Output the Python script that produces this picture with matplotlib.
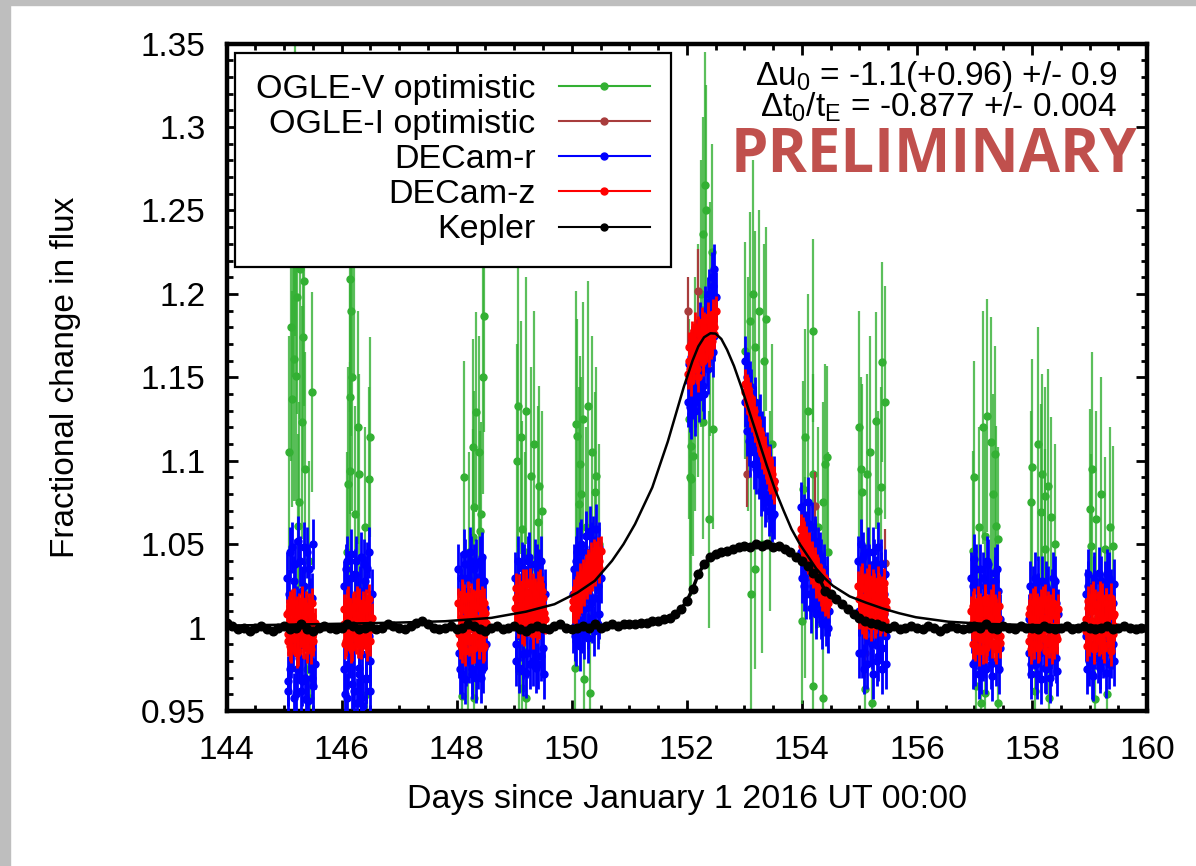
import numpy as np
import matplotlib.pyplot as plt
from matplotlib.lines import Line2D
from matplotlib.patches import Rectangle
from matplotlib.ticker import MultipleLocator, FuncFormatter

plt.rcParams['font.family'] = ['Liberation Sans', 'DejaVu Sans']
plt.rcParams['mathtext.default'] = 'regular'

# ---- DECam r / z photometry, one line per night (two exposure sequences) ----
decam_t = [
    145.05, 145.07, 145.10, 145.12, 145.15, 145.17, 145.19, 145.22, 145.24, 145.27, 145.29, 145.32, 145.34, 145.36, 145.39, 145.41, 145.44, 145.46, 145.49, 145.51,
    146.04, 146.06, 146.09, 146.11, 146.14, 146.16, 146.18, 146.21, 146.23, 146.26, 146.28, 146.31, 146.33, 146.35, 146.38, 146.40, 146.43, 146.45, 146.48, 146.50,
    148.03, 148.05, 148.08, 148.10, 148.13, 148.15, 148.17, 148.20, 148.22, 148.25, 148.27, 148.30, 148.32, 148.34, 148.37, 148.39, 148.42, 148.44, 148.47, 148.49,
    149.02, 149.04, 149.07, 149.10, 149.12, 149.15, 149.17, 149.20, 149.23, 149.25, 149.28, 149.30, 149.33, 149.36, 149.38, 149.41, 149.43, 149.46, 149.49, 149.52,
    150.02, 150.04, 150.07, 150.09, 150.12, 150.14, 150.16, 150.19, 150.21, 150.24, 150.26, 150.29, 150.31, 150.33, 150.36, 150.38, 150.41, 150.43, 150.46, 150.48,
    152.02, 152.04, 152.07, 152.09, 152.12, 152.14, 152.16, 152.19, 152.21, 152.24, 152.26, 152.29, 152.31, 152.33, 152.36, 152.38, 152.41, 152.43, 152.46, 152.48,
    153.01, 153.04, 153.06, 153.09, 153.12, 153.14, 153.17, 153.19, 153.22, 153.25, 153.27, 153.30, 153.32, 153.35, 153.38, 153.40, 153.43, 153.45, 153.48, 153.51,
    153.98, 154.00, 154.03, 154.05, 154.08, 154.10, 154.13, 154.15, 154.18, 154.20, 154.23, 154.25, 154.28, 154.30, 154.33, 154.35, 154.38, 154.40, 154.43, 154.46,
    154.98, 155.00, 155.03, 155.05, 155.08, 155.10, 155.13, 155.15, 155.18, 155.20, 155.23, 155.25, 155.28, 155.30, 155.33, 155.35, 155.38, 155.40, 155.43, 155.46,
    156.94, 156.97, 156.99, 157.02, 157.05, 157.07, 157.10, 157.12, 157.15, 157.18, 157.20, 157.23, 157.25, 157.28, 157.31, 157.33, 157.36, 157.38, 157.41, 157.44,
    157.94, 157.97, 157.99, 158.02, 158.05, 158.07, 158.10, 158.12, 158.15, 158.18, 158.20, 158.23, 158.25, 158.28, 158.31, 158.33, 158.36, 158.38, 158.41, 158.44,
    158.93, 158.95, 158.98, 159.01, 159.03, 159.06, 159.08, 159.11, 159.14, 159.16, 159.19, 159.21, 159.24, 159.27, 159.29, 159.32, 159.34, 159.37, 159.40, 159.42,
    145.06, 145.09, 145.11, 145.14, 145.16, 145.18, 145.21, 145.23, 145.26, 145.28, 145.31, 145.33, 145.35, 145.38, 145.40, 145.43, 145.45, 145.48, 145.50, 145.53,
    146.05, 146.08, 146.10, 146.13, 146.15, 146.17, 146.20, 146.22, 146.25, 146.27, 146.30, 146.32, 146.34, 146.37, 146.39, 146.42, 146.44, 146.47, 146.49, 146.52,
    148.04, 148.07, 148.09, 148.12, 148.14, 148.16, 148.19, 148.21, 148.24, 148.26, 148.29, 148.31, 148.33, 148.36, 148.38, 148.41, 148.43, 148.46, 148.48, 148.51,
    149.03, 149.06, 149.08, 149.11, 149.14, 149.16, 149.19, 149.21, 149.24, 149.27, 149.29, 149.32, 149.34, 149.37, 149.40, 149.42, 149.45, 149.47, 149.50, 149.53,
    150.03, 150.06, 150.08, 150.11, 150.13, 150.15, 150.18, 150.20, 150.23, 150.25, 150.28, 150.30, 150.32, 150.35, 150.37, 150.40, 150.42, 150.45, 150.47, 150.50,
    152.03, 152.06, 152.08, 152.11, 152.13, 152.15, 152.18, 152.20, 152.23, 152.25, 152.28, 152.30, 152.32, 152.35, 152.37, 152.40, 152.42, 152.45, 152.47, 152.50,
    153.02, 153.05, 153.08, 153.10, 153.13, 153.16, 153.18, 153.21, 153.23, 153.26, 153.29, 153.31, 153.34, 153.36, 153.39, 153.42, 153.44, 153.47, 153.49, 153.52,
    153.99, 154.02, 154.04, 154.07, 154.09, 154.12, 154.14, 154.17, 154.19, 154.22, 154.24, 154.27, 154.29, 154.32, 154.34, 154.37, 154.39, 154.42, 154.44, 154.47,
    154.99, 155.02, 155.04, 155.07, 155.09, 155.12, 155.14, 155.17, 155.19, 155.22, 155.24, 155.27, 155.29, 155.32, 155.34, 155.37, 155.39, 155.42, 155.44, 155.47,
    156.95, 156.98, 157.01, 157.03, 157.06, 157.09, 157.11, 157.14, 157.16, 157.19, 157.22, 157.24, 157.27, 157.29, 157.32, 157.35, 157.37, 157.40, 157.42, 157.45,
    157.95, 157.98, 158.01, 158.03, 158.06, 158.09, 158.11, 158.14, 158.16, 158.19, 158.22, 158.24, 158.27, 158.29, 158.32, 158.35, 158.37, 158.40, 158.42, 158.45,
    158.94, 158.97, 158.99, 159.02, 159.05, 159.07, 159.10, 159.12, 159.15, 159.18, 159.20, 159.23, 159.25, 159.28, 159.31, 159.33, 159.36, 159.38, 159.41, 159.43,
]
decam_r = [
    1.030, 0.968, 1.045, 0.985, 1.012, 0.958, 1.038, 0.975, 1.052, 0.992, 0.962, 1.022, 1.048, 0.970, 1.005, 0.956, 1.035, 0.980, 1.018, 0.965,
    1.025, 0.960, 1.040, 0.978, 1.010, 1.044, 0.966, 0.990, 1.032, 0.955, 1.018, 0.972, 1.042, 0.984, 0.953, 1.028, 0.969, 1.036, 0.995, 0.962,
    1.035, 0.975, 1.020, 0.990, 1.044, 0.969, 1.008, 1.030, 0.982, 1.040, 0.972, 1.015, 0.995, 1.038, 0.978, 1.025, 0.970, 1.042, 0.988, 1.012,
    1.030, 0.980, 1.040, 0.995, 1.018, 0.974, 1.035, 1.005, 0.985, 1.042, 0.978, 1.022, 0.990, 1.038, 0.976, 1.012, 1.032, 0.983, 1.026, 0.972,
    1.000, 1.035, 0.992, 1.045, 1.010, 0.989, 1.050, 1.020, 0.996, 1.055, 1.030, 1.002, 1.058, 1.015, 1.048, 0.998, 1.040, 1.059, 1.025, 1.008,
    1.135, 1.158, 1.128, 1.166, 1.142, 1.130, 1.170, 1.150, 1.138, 1.176, 1.160, 1.145, 1.190, 1.168, 1.155, 1.200, 1.178, 1.210, 1.165, 1.215,
    1.160, 1.118, 1.150, 1.105, 1.140, 1.128, 1.098, 1.135, 1.110, 1.092, 1.125, 1.100, 1.085, 1.112, 1.078, 1.102, 1.070, 1.095, 1.066, 1.088,
    1.072, 1.030, 1.065, 1.040, 1.020, 1.075, 1.048, 1.012, 1.060, 1.025, 1.052, 1.008, 1.045, 1.018, 1.038, 1.002, 1.030, 1.010, 1.028, 1.000,
    1.040, 0.985, 1.050, 1.015, 0.975, 1.035, 1.005, 1.045, 0.992, 1.025, 0.972, 1.038, 1.010, 0.980, 1.048, 1.000, 1.030, 0.988, 1.020, 0.978,
    1.030, 0.978, 1.041, 0.990, 1.015, 0.972, 1.035, 1.002, 0.983, 1.025, 0.975, 1.038, 0.995, 1.020, 0.971, 1.010, 1.033, 0.980, 1.022, 0.988,
    0.985, 1.025, 0.972, 1.010, 1.030, 0.978, 1.018, 0.995, 0.969, 1.028, 0.990, 1.012, 0.975, 1.022, 1.002, 0.980, 1.030, 0.986, 1.015, 0.974,
    1.020, 0.975, 1.032, 0.990, 1.012, 0.971, 1.028, 1.000, 0.982, 1.033, 0.978, 1.018, 0.993, 1.025, 0.973, 1.008, 1.030, 0.985, 1.015, 0.980,
    0.962, 1.020, 0.975, 1.048, 0.990, 1.028, 0.960, 1.010, 0.982, 1.040, 0.968, 1.002, 1.025, 0.957, 1.045, 0.988, 1.015, 0.970, 1.050, 0.978,
    0.975, 1.035, 0.958, 1.015, 0.985, 1.030, 0.994, 0.962, 1.040, 1.005, 0.976, 1.022, 0.958, 1.012, 1.038, 0.970, 1.000, 1.045, 0.980, 1.020,
    0.985, 1.030, 0.972, 1.010, 1.038, 0.980, 1.022, 0.992, 1.045, 0.975, 1.005, 1.035, 0.970, 1.018, 0.985, 1.040, 0.998, 0.976, 1.028, 0.990,
    0.990, 1.025, 0.976, 1.012, 1.036, 0.984, 1.020, 0.973, 1.040, 1.000, 1.028, 0.980, 1.015, 0.995, 1.035, 0.978, 1.008, 1.040, 0.988, 1.020,
    1.020, 0.995, 1.040, 1.005, 1.028, 1.048, 1.000, 1.035, 1.012, 1.045, 0.994, 1.025, 1.040, 1.006, 1.052, 1.018, 1.035, 1.002, 1.048, 1.030,
    1.148, 1.132, 1.162, 1.140, 1.155, 1.135, 1.165, 1.145, 1.180, 1.152, 1.170, 1.140, 1.185, 1.160, 1.195, 1.172, 1.188, 1.205, 1.175, 1.198,
    1.135, 1.150, 1.112, 1.145, 1.120, 1.108, 1.130, 1.095, 1.122, 1.105, 1.082, 1.115, 1.090, 1.075, 1.098, 1.080, 1.090, 1.072, 1.082, 1.068,
    1.045, 1.060, 1.025, 1.055, 1.035, 1.062, 1.020, 1.042, 1.030, 1.050, 1.015, 1.035, 1.025, 1.042, 1.008, 1.022, 1.035, 1.004, 1.018, 1.010,
    1.010, 1.030, 0.985, 1.042, 1.000, 1.020, 0.978, 1.035, 1.012, 0.990, 1.045, 1.002, 1.028, 0.983, 1.015, 1.038, 0.975, 1.008, 1.032, 0.995,
    1.000, 1.025, 0.980, 1.035, 0.992, 1.018, 0.975, 1.030, 1.008, 0.985, 1.040, 0.998, 1.022, 0.978, 1.012, 1.028, 0.990, 1.035, 0.975, 1.005,
    1.005, 0.978, 1.022, 0.990, 1.012, 0.972, 1.028, 0.985, 1.015, 1.000, 0.976, 1.025, 0.992, 1.010, 0.970, 1.020, 0.995, 1.028, 0.982, 1.008,
    0.995, 1.025, 0.980, 1.010, 0.972, 1.030, 0.990, 1.015, 1.000, 0.976, 1.028, 0.985, 1.012, 0.995, 1.032, 0.978, 1.005, 1.020, 0.990, 1.026,
]
decam_z = [
    1.008, 0.992, 1.013, 0.988, 1.004, 1.015, 0.995, 1.010, 0.986, 1.006, 0.998, 1.014, 0.990, 1.009, 1.002, 0.993, 1.012, 0.987, 1.007, 0.997,
    1.011, 0.990, 1.006, 1.016, 0.994, 1.003, 0.989, 1.013, 0.998, 1.008, 0.991, 1.015, 1.001, 0.993, 1.010, 0.996, 1.014, 0.989, 1.005, 0.999,
    1.015, 0.990, 1.006, 1.020, 0.994, 0.986, 1.011, 1.002, 0.992, 1.018, 1.008, 0.988, 1.013, 0.997, 1.021, 0.991, 1.004, 1.016, 0.989, 1.009,
    1.012, 1.024, 1.003, 1.018, 1.008, 1.026, 0.998, 1.015, 1.021, 1.005, 1.027, 1.010, 0.996, 1.019, 1.013, 1.025, 1.002, 1.016, 1.022, 1.009,
    1.012, 1.020, 1.010, 1.025, 1.016, 1.028, 1.018, 1.032, 1.022, 1.035, 1.026, 1.038, 1.029, 1.042, 1.031, 1.044, 1.034, 1.040, 1.045, 1.036,
    1.152, 1.168, 1.148, 1.175, 1.158, 1.180, 1.162, 1.150, 1.176, 1.166, 1.183, 1.160, 1.178, 1.170, 1.186, 1.165, 1.181, 1.172, 1.188, 1.176,
    1.146, 1.137, 1.141, 1.129, 1.135, 1.126, 1.124, 1.120, 1.118, 1.113, 1.116, 1.104, 1.109, 1.101, 1.098, 1.095, 1.091, 1.089, 1.092, 1.083,
    1.059, 1.049, 1.055, 1.044, 1.050, 1.041, 1.046, 1.035, 1.042, 1.033, 1.037, 1.027, 1.033, 1.025, 1.029, 1.019, 1.026, 1.016, 1.022, 1.015,
    1.025, 1.008, 1.018, 1.030, 1.003, 1.015, 1.027, 1.010, 1.021, 1.001, 1.013, 1.024, 1.006, 1.019, 1.028, 1.004, 1.016, 1.022, 1.009, 1.012,
    1.010, 0.990, 1.015, 0.996, 1.005, 0.986, 1.012, 1.001, 0.993, 1.017, 0.988, 1.008, 0.998, 1.014, 0.991, 1.003, 1.011, 0.987, 1.006, 0.995,
    0.992, 1.012, 0.987, 1.006, 1.016, 0.996, 1.009, 0.989, 1.014, 1.001, 0.994, 1.017, 0.986, 1.004, 1.011, 0.998, 1.015, 0.990, 1.007, 0.993,
    1.005, 0.989, 1.016, 0.995, 1.010, 1.019, 0.987, 1.002, 1.013, 0.992, 1.008, 1.018, 0.990, 1.004, 1.015, 0.997, 1.011, 0.986, 1.007, 1.001,
    0.996, 1.010, 0.989, 1.014, 1.001, 0.993, 1.008, 0.985, 1.012, 0.997, 1.016, 0.991, 1.005, 1.013, 0.988, 1.009, 0.995, 1.015, 0.992, 1.003,
    1.002, 0.992, 1.014, 0.997, 1.009, 0.988, 1.012, 1.004, 0.993, 1.016, 0.996, 1.007, 0.990, 1.013, 1.000, 0.994, 1.011, 1.017, 0.992, 1.006,
    0.996, 1.012, 0.988, 1.017, 1.003, 0.993, 1.019, 0.999, 1.009, 0.987, 1.014, 0.995, 1.006, 1.020, 0.990, 1.012, 0.998, 0.988, 1.015, 1.003,
    1.018, 1.006, 1.023, 1.013, 0.999, 1.020, 1.010, 1.026, 1.004, 1.017, 1.012, 1.024, 1.007, 1.021, 1.000, 1.014, 1.026, 1.009, 1.018, 1.005,
    1.016, 1.011, 1.022, 1.014, 1.020, 1.030, 1.024, 1.026, 1.030, 1.028, 1.034, 1.031, 1.036, 1.033, 1.039, 1.037, 1.043, 1.038, 1.040, 1.046,
    1.160, 1.155, 1.170, 1.156, 1.172, 1.164, 1.155, 1.178, 1.168, 1.174, 1.163, 1.180, 1.175, 1.168, 1.184, 1.176, 1.170, 1.185, 1.180, 1.190,
    1.141, 1.143, 1.133, 1.138, 1.128, 1.130, 1.120, 1.124, 1.114, 1.118, 1.108, 1.111, 1.104, 1.106, 1.097, 1.100, 1.093, 1.094, 1.086, 1.088,
    1.054, 1.057, 1.047, 1.052, 1.043, 1.048, 1.038, 1.043, 1.034, 1.039, 1.030, 1.035, 1.028, 1.030, 1.022, 1.027, 1.019, 1.023, 1.017, 1.020,
    1.017, 1.028, 1.005, 1.012, 1.024, 1.002, 1.019, 1.029, 1.008, 1.014, 1.026, 1.003, 1.018, 1.011, 1.023, 1.006, 1.020, 1.027, 1.004, 1.016,
    1.002, 1.013, 0.989, 1.007, 1.016, 0.994, 1.009, 0.987, 1.004, 1.015, 0.992, 1.011, 0.997, 1.006, 1.017, 0.989, 1.008, 0.996, 1.013, 0.991,
    1.008, 0.995, 1.015, 0.990, 1.003, 1.012, 0.988, 1.010, 0.997, 1.016, 0.993, 1.006, 1.013, 0.991, 1.009, 0.987, 1.014, 1.001, 0.995, 1.011,
    0.998, 1.012, 0.992, 1.017, 1.004, 0.989, 1.014, 0.996, 1.009, 1.019, 0.993, 1.006, 0.988, 1.015, 1.001, 1.011, 0.991, 1.018, 0.996, 1.008,
]
decam_r_err = 0.015
decam_z_err = 0.009

# ---- OGLE V ----
oglev_t = [
    145.12, 145.17, 145.21, 145.22, 145.26, 145.24, 145.14, 145.31, 145.33, 145.34, 145.48, 145.19, 145.40, 145.45,
    146.14, 146.16, 146.14, 146.50, 146.14, 146.12, 146.31, 146.47, 146.24, 146.35, 146.45,
    148.48, 148.33, 148.28, 148.31, 148.43, 148.41, 148.29, 148.10, 148.31, 148.20,
    149.07, 149.21, 149.12, 149.29, 149.43, 149.41, 149.14, 149.09, 149.14, 149.21,
    150.29, 150.07, 150.19, 150.14, 150.16, 150.40, 150.43, 150.12, 150.05, 150.22, 150.31,
    152.31, 152.33, 152.29, 152.43, 152.03, 152.07, 152.10, 152.08, 152.38, 152.45, 152.29, 152.20,
    153.09, 153.26, 153.38, 153.19, 153.02, 153.19, 153.30, 153.45, 153.12,
    154.19, 154.05, 154.19, 154.43, 154.40, 154.02, 154.36, 154.00, 154.19, 154.36,
    155.40, 155.29, 155.03, 155.14, 155.05, 155.38, 155.09, 155.22,
    157.22, 157.29, 157.36, 157.07, 157.19, 157.38, 157.41, 156.98, 157.03, 157.19, 157.12, 157.41,
    158.00, 158.17, 158.22, 157.98, 158.33, 158.16, 158.22, 158.05, 158.30,
    159.00, 159.12, 159.26, 159.41, 159.02, 159.10, 159.30,
    145.15, 145.28, 145.36, 145.09, 145.44, 146.18, 146.28, 146.40, 146.10, 146.22,
    148.12, 148.22, 148.38, 148.46, 149.05, 149.18, 149.35, 149.48,
    150.10, 150.25, 150.35, 150.47, 152.15, 152.25, 152.40, 152.05,
    153.06, 153.15, 153.34, 153.48, 154.10, 154.28, 154.45, 154.05,
    155.00, 155.18, 155.33, 155.45, 157.00, 157.15, 157.33,
    158.10, 158.27, 158.40, 159.05, 159.20, 159.35,
]
oglev_f = [
    1.180, 1.161, 1.151, 1.198, 1.075, 1.061, 1.137, 1.123, 1.174, 1.208, 1.141, 1.265, 0.975, 0.958,
    1.209, 1.190, 1.138, 1.114, 1.094, 1.086, 1.092, 1.089, 1.068, 0.990, 0.960,
    1.187, 1.129, 1.108, 1.072, 1.068, 1.058, 1.054, 0.959, 0.958, 0.985,
    1.133, 1.130, 1.114, 1.091, 1.085, 1.063, 1.059, 0.974, 0.964, 0.958,
    1.133, 1.122, 1.125, 1.098, 1.080, 1.081, 1.091, 1.074, 0.976, 0.969, 0.961,
    1.265, 1.250, 1.236, 1.225, 1.125, 1.109, 1.103, 1.089, 1.065, 1.119, 1.123, 1.160,
    1.184, 1.190, 1.185, 1.168, 1.166, 1.035, 1.050, 1.070, 1.020,
    1.178, 1.114, 1.092, 1.102, 1.098, 1.083, 1.075, 1.004, 0.965, 0.958,
    1.159, 1.124, 1.095, 1.092, 1.081, 1.084, 0.963, 0.955,
    1.127, 1.111, 1.104, 1.060, 1.055, 1.061, 1.053, 1.046, 0.965, 0.961, 0.955, 0.955,
    1.096, 1.092, 1.079, 1.075, 1.066, 1.069, 1.047, 0.962, 0.958,
    1.071, 1.065, 1.047, 1.049, 1.049, 0.957, 0.960,
    1.230, 1.215, 1.095, 1.105, 1.040, 1.150, 1.120, 1.060, 1.045, 1.232,
    1.090, 1.045, 1.105, 1.150, 1.100, 1.045, 1.110, 1.070,
    1.115, 1.060, 1.105, 1.050, 1.140, 1.200, 1.185, 1.090,
    1.140, 1.200, 1.160, 1.110, 1.130, 1.060, 1.045, 1.030,
    1.120, 1.105, 1.070, 1.135, 1.090, 1.120, 1.080,
    1.110, 1.085, 1.050, 1.095, 1.080, 1.060,
]
oglev_err = [
    0.080, 0.085, 0.075, 0.070, 0.060, 0.055, 0.065, 0.070, 0.080, 0.075, 0.060, 0.090, 0.050, 0.050,
    0.080, 0.075, 0.070, 0.060, 0.065, 0.070, 0.060, 0.055, 0.065, 0.050, 0.050,
    0.070, 0.060, 0.065, 0.070, 0.055, 0.060, 0.065, 0.050, 0.055, 0.060,
    0.085, 0.080, 0.070, 0.065, 0.060, 0.070, 0.065, 0.050, 0.055, 0.050,
    0.075, 0.080, 0.070, 0.065, 0.070, 0.060, 0.065, 0.070, 0.050, 0.055, 0.050,
    0.080, 0.075, 0.070, 0.065, 0.060, 0.065, 0.060, 0.070, 0.065, 0.060, 0.070, 0.070,
    0.065, 0.060, 0.055, 0.070, 0.065, 0.060, 0.065, 0.060, 0.070,
    0.055, 0.065, 0.060, 0.055, 0.060, 0.065, 0.060, 0.050, 0.055, 0.050,
    0.060, 0.065, 0.055, 0.060, 0.065, 0.060, 0.050, 0.050,
    0.070, 0.075, 0.065, 0.060, 0.065, 0.060, 0.055, 0.060, 0.050, 0.050, 0.050, 0.050,
    0.065, 0.060, 0.065, 0.055, 0.060, 0.065, 0.060, 0.050, 0.050,
    0.060, 0.065, 0.055, 0.060, 0.055, 0.050, 0.050,
    0.080, 0.090, 0.070, 0.070, 0.060, 0.080, 0.070, 0.060, 0.060, 0.080,
    0.070, 0.060, 0.070, 0.070, 0.070, 0.060, 0.080, 0.060,
    0.070, 0.060, 0.070, 0.060, 0.070, 0.080, 0.070, 0.070,
    0.070, 0.080, 0.070, 0.060, 0.070, 0.060, 0.060, 0.060,
    0.070, 0.070, 0.060, 0.070, 0.070, 0.070, 0.060,
    0.070, 0.070, 0.060, 0.070, 0.070, 0.060,
]

# ---- OGLE I ----
oglei_t = [145.30, 146.40, 148.45, 149.40, 152.02, 152.20, 153.05, 154.22, 155.10, 155.45, 157.40, 158.35, 159.20]
oglei_f = [0.990, 1.005, 1.012, 1.022, 1.190, 1.202, 1.092, 1.073, 0.985, 1.039, 0.995, 0.990, 1.015]
oglei_err = [0.015, 0.015, 0.015, 0.015, 0.020, 0.025, 0.020, 0.020, 0.015, 0.020, 0.015, 0.015, 0.015]

# ---- Kepler (K2) light curve ----
kepler_t = [
    144.0, 144.1, 144.2, 144.3, 144.4, 144.5, 144.6, 144.7, 144.8, 144.9,
    145.0, 145.1, 145.2, 145.3, 145.4, 145.5, 145.6, 145.7, 145.8, 145.9,
    146.0, 146.1, 146.2, 146.3, 146.4, 146.5, 146.6, 146.7, 146.8, 146.9,
    147.0, 147.1, 147.2, 147.3, 147.4, 147.5, 147.6, 147.7, 147.8, 147.9,
    148.0, 148.1, 148.2, 148.3, 148.4, 148.5, 148.6, 148.7, 148.8, 148.9,
    149.0, 149.1, 149.2, 149.3, 149.4, 149.5, 149.6, 149.7, 149.8, 149.9,
    150.0, 150.1, 150.2, 150.3, 150.4, 150.5, 150.6, 150.7, 150.8, 150.9,
    151.0, 151.1, 151.2, 151.3, 151.4, 151.5, 151.6, 151.7, 151.8, 151.9,
    152.0, 152.1, 152.2, 152.3, 152.4, 152.5, 152.6, 152.7, 152.8, 152.9,
    153.0, 153.1, 153.2, 153.3, 153.4, 153.5, 153.6, 153.7, 153.8, 153.9,
    154.0, 154.1, 154.2, 154.3, 154.4, 154.5, 154.6, 154.7, 154.8, 154.9,
    155.0, 155.1, 155.2, 155.3, 155.4, 155.5, 155.6, 155.7, 155.8, 155.9,
    156.0, 156.1, 156.2, 156.3, 156.4, 156.5, 156.6, 156.7, 156.8, 156.9,
    157.0, 157.1, 157.2, 157.3, 157.4, 157.5, 157.6, 157.7, 157.8, 157.9,
    158.0, 158.1, 158.2, 158.3, 158.4, 158.5, 158.6, 158.7, 158.8, 158.9,
    159.0, 159.1, 159.2, 159.3, 159.4, 159.5, 159.6, 159.7, 159.8, 159.9,
    160.0,
]
kepler_f = [
    1.003, 1.001, 0.999, 1.000, 0.998, 1.000, 1.001, 0.999, 0.998, 1.000,
    1.001, 0.999, 1.000, 1.002, 0.999, 0.998, 1.000, 1.001, 1.000, 0.999,
    1.000, 1.002, 1.001, 0.999, 1.000, 1.001, 0.999, 1.000, 1.002, 1.001,
    1.000, 0.999, 1.001, 1.003, 1.004, 1.002, 1.000, 0.999, 1.000, 1.001,
    0.999, 1.000, 1.002, 1.001, 0.999, 0.998, 1.000, 1.001, 0.999, 1.000,
    1.001, 0.999, 0.998, 1.000, 1.001, 1.000, 0.999, 1.001, 1.002, 1.000,
    0.999, 1.000, 1.001, 1.000, 1.002, 1.000, 1.001, 1.002, 1.001, 1.002,
    1.002, 1.002, 1.003, 1.003, 1.004, 1.004, 1.005, 1.006, 1.008, 1.011,
    1.016, 1.023, 1.032, 1.038, 1.042, 1.044, 1.045, 1.046, 1.047, 1.048,
    1.049, 1.048, 1.050, 1.049, 1.050, 1.048, 1.049, 1.047, 1.045, 1.042,
    1.040, 1.037, 1.033, 1.030, 1.022, 1.020, 1.017, 1.014, 1.011, 1.008,
    1.006, 1.004, 1.003, 1.002, 1.001, 1.000, 1.001, 0.999, 1.000, 1.001,
    1.000, 0.999, 1.001, 1.000, 0.998, 1.000, 1.001, 1.000, 0.999, 1.000,
    1.001, 1.000, 1.002, 1.000, 0.999, 1.001, 1.000, 0.999, 1.001, 1.000,
    1.000, 0.999, 1.001, 1.000, 0.999, 1.000, 1.001, 0.999, 1.000, 1.001,
    1.000, 0.999, 1.000, 1.001, 0.999, 1.000, 1.001, 1.000, 0.999, 1.000,
    1.000,
]

# ---- best-fit microlensing model ----
model_t = [
    144.0, 145.0, 146.0, 147.0, 147.8, 148.6, 149.2, 149.7, 150.1, 150.4,
    150.7, 150.9, 151.1, 151.4, 151.67, 151.95, 152.1, 152.2, 152.3, 152.41,
    152.5, 152.6, 152.7, 152.82, 152.95, 153.1, 153.25, 153.39, 153.53, 153.68,
    153.82, 153.97, 154.1, 154.25, 154.4, 154.54, 154.83, 155.11, 155.4, 155.69,
    155.98, 156.55, 157.2, 158.0, 159.0, 160.0,
]
model_f = [
    1.0012, 1.0017, 1.0023, 1.0030, 1.0038, 1.0058, 1.0095, 1.0140, 1.0210, 1.0280,
    1.0400, 1.0500, 1.0620, 1.0840, 1.1115, 1.1445, 1.1600, 1.1685, 1.1740, 1.1764,
    1.1762, 1.1730, 1.1665, 1.1568, 1.1440, 1.1280, 1.1120, 1.0971, 1.0830, 1.0703,
    1.0590, 1.0497, 1.0430, 1.0353, 1.0295, 1.0250, 1.0187, 1.0150, 1.0115, 1.0086,
    1.0062, 1.0035, 1.0022, 1.0015, 1.0011, 1.0009,
]

labels = ['OGLE-V optimistic', 'OGLE-I optimistic', 'DECam-r', 'DECam-z', 'Kepler']
green = '#33b033'
brown = '#a83c3c'

fig = plt.figure(figsize=(11.96, 8.66), dpi=100)
# grey strips along the left and top edge of the canvas
fig.patches.append(Rectangle((0, 0), 10 / 1196, 1, transform=fig.transFigure,
                             color='#bebebe', zorder=0))
fig.patches.append(Rectangle((0, 1 - 5 / 866), 1, 5 / 866, transform=fig.transFigure,
                             color='#bebebe', zorder=0))

ax = fig.add_axes([0.1894, 0.1790, 0.7697, 0.7706])

eb = ax.errorbar(oglev_t, oglev_f, yerr=oglev_err, fmt='o', ms=5, color=green,
                 ecolor=green, elinewidth=1.6, capsize=0, zorder=2)
eb[2][0].set_alpha(0.8)
ax.errorbar(oglei_t, oglei_f, yerr=oglei_err, fmt='o', ms=5, color=brown,
            ecolor=brown, elinewidth=1.6, capsize=0, zorder=3)
ax.errorbar(decam_t, decam_r, yerr=decam_r_err, fmt='o', ms=5, color='#0000ff',
            ecolor='#0000ff', elinewidth=2, capsize=0, zorder=4)
ax.errorbar(decam_t, decam_z, yerr=decam_z_err, fmt='o', ms=5, color='#ff0000',
            ecolor='#ff0000', elinewidth=2, capsize=0, zorder=5)
ax.plot(kepler_t, kepler_f, 'o-', color='black', ms=6.2, lw=2.5, zorder=6)
ax.plot(model_t, model_f, '-', color='black', lw=1.8, zorder=7)

ax.set_xlim(144, 160)
ax.set_ylim(0.95, 1.35)
ax.xaxis.set_major_locator(MultipleLocator(2))
ax.xaxis.set_minor_locator(MultipleLocator(0.5))
ax.yaxis.set_major_locator(MultipleLocator(0.05))
ax.yaxis.set_minor_locator(MultipleLocator(0.01))
ax.yaxis.set_major_formatter(FuncFormatter(lambda v, p: f'{v:.2f}'.rstrip('0').rstrip('.')))
ax.tick_params(which='both', direction='in', top=True, right=True, labelsize=24)
ax.tick_params(which='major', length=8, width=2)
ax.tick_params(which='minor', length=4.5, width=2)
ax.tick_params(axis='y', pad=15)
ax.tick_params(axis='x', pad=17)
for sp in ax.spines.values():
    sp.set_linewidth(3.2)

ax.set_xlabel('Days since January 1 2016 UT 00:00', fontsize=24.5)
ax.set_ylabel('Fractional change in flux', fontsize=24)
ax.xaxis.set_label_coords(0.5, -0.11)
ax.yaxis.set_label_coords(-0.158, 0.5)

handles = [Line2D([], [], color=c, marker='o', ms=5, lw=1.5)
           for c in [green, brown, '#0000ff', '#ff0000', 'black']]
leg = ax.legend(handles, labels, loc='upper left', bbox_to_anchor=(0.0092, 0.986),
                borderaxespad=0, markerfirst=False, fontsize=24.5, fancybox=False,
                framealpha=1, edgecolor='black', handlelength=2.68,
                handletextpad=0.68, labelspacing=0.12, borderpad=0.62)
leg.get_frame().set_linewidth(1.6)
leg.set_zorder(20)

ax.text(0.9674, 0.938, r'$\Delta$u$_0$ = -1.1(+0.96) +/- 0.9', transform=ax.transAxes,
        ha='right', va='baseline', fontsize=24, zorder=21)
ax.text(0.9674, 0.8906, r'$\Delta$t$_0$/t$_E$ = -0.877 +/- 0.004', transform=ax.transAxes,
        ha='right', va='baseline', fontsize=24, zorder=21)
ax.text(0.9891, 0.8077, 'PRELIMINARY', transform=ax.transAxes, ha='right', va='baseline',
        fontsize=43, fontweight='bold', family=['Open Sans', 'DejaVu Sans'],
        color='#c0504d', zorder=21)

fig.savefig('out.png', dpi=100)
